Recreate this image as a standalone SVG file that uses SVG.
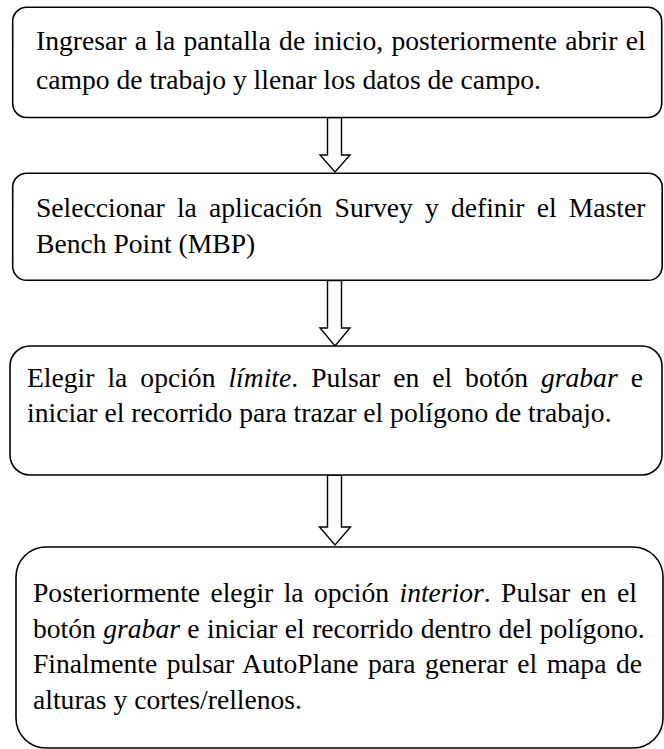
<svg xmlns="http://www.w3.org/2000/svg" width="664" height="749" viewBox="0 0 664 749">
<style>
.box{fill:#fff;stroke:#000;stroke-width:1.6}
.arrow{fill:#fff;stroke:#000;stroke-width:1.4;stroke-linejoin:miter}
.t{font-family:'Liberation Serif','Times New Roman',serif;font-size:27.6px;fill:#000}
.i{font-style:italic}
</style>
<rect width="664" height="749" fill="#fff"/>
<g id="connectors">
<polygon class="arrow" points="327.5,117.5 341.5,117.5 341.5,155 350,155 335,172 320,155 327.5,155"/>
<polygon class="arrow" points="327.5,280.5 341.5,280.5 341.5,328 350,328 335,346 320,328 327.5,328"/>
<polygon class="arrow" points="327.5,475 341.5,475 341.5,527 350.5,527 335,545 319.5,527 327.5,527"/>
</g>
<g id="node1">
<rect class="box" x="12.7" y="7.3" width="649" height="110.2" rx="14"/>
<text class="t" x="36" y="50" word-spacing="1.4">Ingresar a la pantalla de inicio, posteriormente abrir el</text>
<text class="t" x="36" y="89">campo de trabajo y llenar los datos de campo.</text>
</g>
<g id="node2">
<rect class="box" x="12.7" y="173.3" width="649.5" height="107" rx="14"/>
<text class="t" x="36" y="217" word-spacing="5.3">Seleccionar la aplicación Survey y definir el Master</text>
<text class="t" x="36" y="253">Bench Point (MBP)</text>
</g>
<g id="node3">
<rect class="box" x="10" y="346" width="652" height="129" rx="20"/>
<text class="t" x="27" y="387" word-spacing="6.1">Elegir la opción <tspan class="i">límite</tspan>. Pulsar en el botón <tspan class="i">grabar</tspan> e</text>
<text class="t" x="27" y="422">iniciar el recorrido para trazar el polígono de trabajo.</text>
</g>
<g id="node4">
<rect class="box" x="16" y="547" width="647" height="201" rx="30"/>
<text class="t" x="33" y="602" word-spacing="3.5">Posteriormente elegir la opción <tspan class="i">interior</tspan>. Pulsar en el</text>
<text class="t" x="33" y="638" word-spacing="0.5">botón <tspan class="i">grabar</tspan> e iniciar el recorrido dentro del polígono.</text>
<text class="t" x="33" y="673" word-spacing="2.6">Finalmente pulsar AutoPlane para generar el mapa de</text>
<text class="t" x="33" y="709">alturas y cortes/rellenos.</text>
</g>
</svg>
